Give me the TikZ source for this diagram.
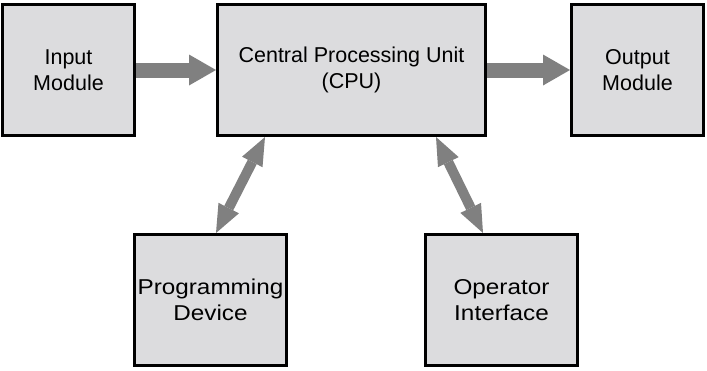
\documentclass[tikz,border=0pt]{standalone}
\usepackage{fontspec}
\setmainfont{Liberation Sans}
\newfontfamily\widesans[FakeStretch=1.13]{Liberation Sans}
\usetikzlibrary{arrows.meta}
\definecolor{boxgray}{RGB}{220,220,222}
\definecolor{arrowgray}{RGB}{128,128,128}
\tikzstyle{unitbox} = [draw=black, fill=boxgray, line width=2.8pt, rectangle, inner sep=0pt, align=center, minimum width=132.2pt, minimum height=131.2pt, font=\fontsize{21.5}{26}\selectfont]
\tikzstyle{widebox} = [unitbox, minimum width=152.2pt, font=\widesans\fontsize{21.5}{26}\selectfont]
\tikzstyle{flowarrow} = [draw=arrowgray, line width=15pt, -{Triangle[length=27pt, width=31pt, line width=0pt]}]
\tikzstyle{linkarrow} = [draw=arrowgray, line width=10pt, {Triangle[length=28pt, width=23pt, line width=0pt]}-{Triangle[length=28pt, width=23pt, line width=0pt]}]

\begin{document}
\begin{tikzpicture}[x=1pt, y=-1pt]
\useasboundingbox (0,0) rectangle (707,370);
\node [unitbox] (input) at (68.5,70) {Input\\Module};
\node [unitbox, minimum width=268.2pt] (cpu) at (351.5,70) {Central Processing Unit\\(CPU)};
\node [unitbox] (output) at (637.5,70) {Output\\Module};
\node [widebox] (progdev) at (210.5,300) {Programming\\Device};
\node [widebox] (opif) at (501.5,300) {Operator\\Interface};
\draw [flowarrow] (input) -- (cpu);
\draw [flowarrow] (cpu) -- (output);
\draw [linkarrow] ([xshift=-86.5pt]cpu.south) -- ([xshift=5.5pt]progdev.north);
\draw [linkarrow] ([xshift=84.5pt]cpu.south) -- ([xshift=-18.5pt]opif.north);
\end{tikzpicture}
\end{document}
